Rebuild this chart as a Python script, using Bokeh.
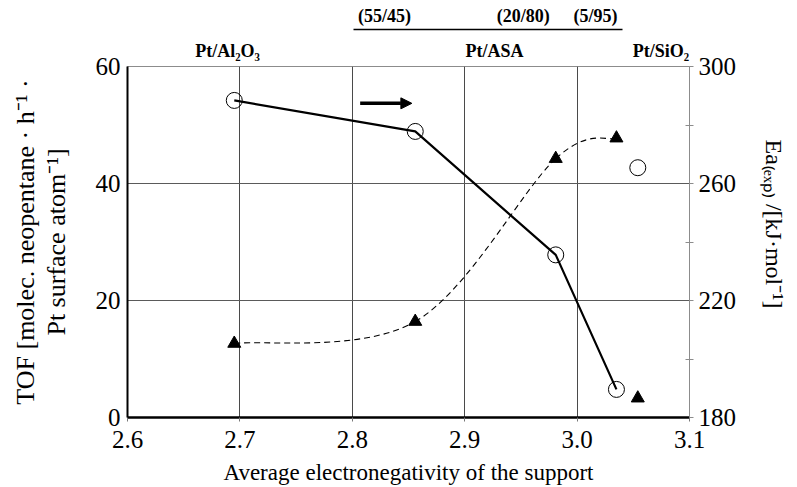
from bokeh.plotting import figure
from bokeh.models import (Range1d, LinearAxis, FixedTicker, Arrow, NormalHead,
                          CustomJSTickFormatter)
from bokeh.embed import file_html
from bokeh.resources import INLINE

# ---------------- data ----------------
electroneg = [2.695, 2.856, 2.981, 3.035]          # Pt/Al2O3, ASA 55/45, 20/80, 5/95
tof = [54.2, 48.9, 27.8, 4.8]                       # left axis, open circles (solid line)
ea = [205.3, 212.8, 268.5, 275.5]                   # right axis, triangles (dashed curve)
sio2_x = [3.054]                                     # Pt/SiO2 (not connected)
sio2_tof = [42.7]
sio2_ea = [186.6]

x_ticks = [2.6, 2.7, 2.8, 2.9, 3.0, 3.1]
x_grid = [2.7, 2.8, 2.9, 3.0]
tof_ticks = [0, 20, 40, 60]
tof_grid = [20, 40]
ea_ticks = [180, 220, 260, 300]
ea_minor = [200, 240, 280]

support_names = ["Pt/Al\u2082O\u2083", "Pt/ASA", "Pt/SiO\u2082"]
support_x = [2.689, 2.9265, 3.0747]
compositions = ["(55/45)", "(20/80)", "(5/95)"]
composition_x = [2.8287, 2.952, 3.0164]
bracket_x = (2.8012, 3.040)
arrow_x = [2.807, 2.853]
arrow_y = 53.7

x_title = "Average electronegativity of the support"
left_title = "TOF [molec. neopentane \u00b7 h\u207b\u00b9 \u00b7\nPt surface atom\u207b\u00b9]"
right_title = "Ea\u208d\u2091\u2093\u209a\u208e /[kJ\u00b7mol\u207b\u00b9]" + "\u00a0" * 6

# ---------------- geometry ----------------
W, H = 797, 487
FL, FR, FT, FB = 127, 689, 66, 417
X0, X1 = 2.6, 3.1
SERIF = "Liberation Serif"

p = figure(width=W, height=H, x_range=Range1d(X0, X1), y_range=Range1d(0, 60),
           output_backend="svg", toolbar_location=None,
           min_border_left=FL, min_border_right=W - FR, min_border_top=FT,
           min_border_bottom=H - FB)
p.extra_y_ranges = {"ea": Range1d(180, 300)}
p.outline_line_color = "#8c8c8c"
p.outline_line_width = 1

# ---------------- bottom / left axes ----------------
p.xaxis.ticker = FixedTicker(ticks=x_ticks)
p.xaxis.formatter = CustomJSTickFormatter(code="return tick.toFixed(1);")
p.yaxis.ticker = FixedTicker(ticks=tof_ticks)
for ax in (p.xaxis[0], p.yaxis[0]):
    ax.axis_line_color = "black"
    ax.major_label_text_font = SERIF
    ax.major_label_text_font_size = "25px"
    ax.major_label_text_color = "black"
    ax.minor_tick_line_color = None
    ax.axis_label_text_font = SERIF
    ax.axis_label_text_font_style = "normal"
    ax.axis_label_text_color = "black"
p.xaxis.axis_line_width = 2.5
p.xaxis.major_tick_out = 4
p.xaxis.major_tick_in = 0
p.xaxis.major_tick_line_color = "#777777"
p.xaxis.major_label_standoff = 9
p.xaxis.axis_label = x_title
p.xaxis.axis_label_text_font_size = "23px"
p.xaxis.axis_label_standoff = 9
p.yaxis.axis_line_width = 2
p.yaxis.major_tick_out = 0
p.yaxis.major_tick_in = 0
p.yaxis.major_label_standoff = 7
p.yaxis.axis_label = left_title
p.yaxis.axis_label_text_font_size = "26px"
p.yaxis.axis_label_text_line_height = 1.05
p.yaxis.axis_label_standoff = 22

# ---------------- right axis (Ea) ----------------
rax = LinearAxis(y_range_name="ea", ticker=FixedTicker(ticks=ea_ticks, minor_ticks=ea_minor))
rax.axis_line_color = "#8c8c8c"
rax.axis_line_width = 1
rax.major_tick_out = 4
rax.major_tick_in = 0
rax.major_tick_line_color = "#8c8c8c"
rax.minor_tick_out = 4
rax.minor_tick_in = 4
rax.minor_tick_line_color = "#8c8c8c"
rax.major_label_text_font = SERIF
rax.major_label_text_font_size = "25px"
rax.major_label_text_color = "black"
rax.major_label_standoff = 5
rax.axis_label = right_title
rax.axis_label_text_font = SERIF
rax.axis_label_text_font_size = "24px"
rax.axis_label_text_font_style = "normal"
rax.axis_label_text_color = "black"
rax.axis_label_standoff = 22
p.add_layout(rax, "right")

# ---------------- top: support names and ASA compositions (as label-only axes) ----------------
names_ax = LinearAxis(ticker=FixedTicker(ticks=support_x),
                      major_label_overrides=dict(zip(support_x, support_names)))
names_ax.axis_line_color = None
names_ax.major_tick_line_color = None
names_ax.minor_tick_line_color = None
names_ax.major_tick_out = 0
names_ax.major_tick_in = 0
names_ax.major_label_standoff = 6
names_ax.major_label_text_font = SERIF
names_ax.major_label_text_font_size = "18px"
names_ax.major_label_text_font_style = "bold"
names_ax.major_label_text_color = "black"
names_ax.axis_label = "\u00a0"
names_ax.axis_label_text_font_size = "1px"
names_ax.axis_label_standoff = 4
p.add_layout(names_ax, "above")

comp_ax = LinearAxis(ticker=FixedTicker(ticks=composition_x), bounds=bracket_x,
                     major_label_overrides=dict(zip(composition_x, compositions)))
comp_ax.axis_line_color = "black"
comp_ax.axis_line_width = 1.5
comp_ax.major_tick_line_color = None
comp_ax.minor_tick_line_color = None
comp_ax.major_tick_out = 0
comp_ax.major_tick_in = 0
comp_ax.major_label_standoff = 4
comp_ax.major_label_text_font = SERIF
comp_ax.major_label_text_font_size = "18px"
comp_ax.major_label_text_font_style = "bold"
comp_ax.major_label_text_color = "black"
p.add_layout(comp_ax, "above")

# ---------------- grid ----------------
p.xgrid.ticker = FixedTicker(ticks=x_grid)
p.ygrid.ticker = FixedTicker(ticks=tof_grid)
p.xgrid.grid_line_color = "#4a4a4a"
p.ygrid.grid_line_color = "#5a5a5a"

# ---------------- Ea smoothed dashed curve (Catmull-Rom -> Bezier) ----------------
n = len(electroneg)
bz = dict(x0=[], y0=[], x1=[], y1=[], cx0=[], cy0=[], cx1=[], cy1=[])
for i in range(n - 1):
    a = i - 1 if i > 0 else i
    d = i + 2 if i + 2 < n else i + 1
    bz["x0"].append(electroneg[i]); bz["y0"].append(ea[i])
    bz["x1"].append(electroneg[i + 1]); bz["y1"].append(ea[i + 1])
    bz["cx0"].append(electroneg[i] + (electroneg[i + 1] - electroneg[a]) / 6)
    bz["cy0"].append(ea[i] + (ea[i + 1] - ea[a]) / 6)
    bz["cx1"].append(electroneg[i + 1] - (electroneg[d] - electroneg[i]) / 6)
    bz["cy1"].append(ea[i + 1] - (ea[d] - ea[i]) / 6)
p.bezier(line_color="black", line_width=1.1, line_dash="6 4", y_range_name="ea", **bz)

# ---------------- TOF solid line with open circles ----------------
p.line(electroneg, tof, line_color="black", line_width=2.2)
p.scatter(electroneg, tof, marker="circle", size=16, fill_color=None,
          line_color="black", line_width=1)
p.scatter(sio2_x, sio2_tof, marker="circle", size=16, fill_color=None,
          line_color="black", line_width=1)

# triangles (right axis)
p.scatter(electroneg, ea, marker="triangle", size=13, fill_color="black",
          line_color="black", y_range_name="ea")
p.scatter(sio2_x, sio2_ea, marker="triangle", size=13, fill_color="black",
          line_color="black", y_range_name="ea")

p.add_layout(Arrow(end=NormalHead(size=11, fill_color="black", line_color="black", line_width=1),
                   x_start=arrow_x[0], y_start=arrow_y, x_end=arrow_x[1], y_end=arrow_y,
                   line_width=3.5, line_color="black"))

with open("out.html", "w") as f:
    f.write(file_html(p, INLINE))
